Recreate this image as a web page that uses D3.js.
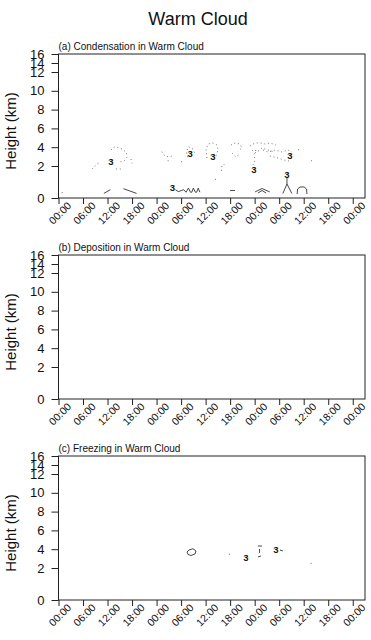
<!DOCTYPE html>
<html>
<head>
<meta charset="utf-8">
<script src="https://cdn.jsdelivr.net/npm/d3@7"></script>
<style>
  body { margin: 0; background: #fff; }
  svg { display: block; }
  text { font-family: "Liberation Sans", Arial, Helvetica, sans-serif; fill: #111; }
</style>
</head>
<body>
<svg id="chart" width="371" height="640"></svg>
<script>
// ---- data -------------------------------------------------------------
const chartTitle = "Warm Cloud";
const panelTitles = [
  "(a) Condensation in Warm Cloud",
  "(b) Deposition in Warm Cloud",
  "(c) Freezing in Warm Cloud"
];
const yAxisTitle = "Height (km)";

// time axis in hours from the start of the run
const timeDomain = [0, 75];
const xTickHours = [0, 6, 12, 18, 24, 30, 36, 42, 48, 54, 60, 66, 72];
const xTickLabels = ["00:00", "06:00", "12:00", "18:00", "00:00", "06:00", "12:00",
                     "18:00", "00:00", "06:00", "12:00", "18:00", "00:00"];

// height axis (km) on stretched model levels
const yTickValues = [0, 2, 4, 6, 8, 10, 12, 14, 16];
const yLevelFraction = [0, 0.2222, 0.3528, 0.4833, 0.6139, 0.7444, 0.875, 0.9375, 1];

// contour lines: [hour, km] vertices
const condSolid = [
  [[0.8, 0.33], [1.0, 0.33]],
  [[11.1, 0.29], [12.7, 0.52]],
  [[15.9, 0.58], [19.1, 0.29]],
  [[28.6, 0.52], [29.3, 0.40], [30.0, 0.46], [30.6, 0.52], [31.2, 0.36], [31.8, 0.62], [32.3, 0.36],
   [32.6, 0.36], [33.0, 0.62], [33.5, 0.36], [33.8, 0.36], [34.2, 0.62], [34.6, 0.36]],
  [[42.0, 0.47], [43.2, 0.47]],
  [[48.1, 0.38], [49.8, 0.59], [51.7, 0.38]],
  [[48.8, 0.31], [49.8, 0.47], [50.8, 0.31]],
  [[55.9, 1.25], [55.9, 0.88], [54.9, 0.28]],
  [[55.9, 0.88], [57.1, 0.28]],
  [[58.4, 0.25], [58.5, 0.56], [59.1, 0.69], [60.1, 0.69], [60.7, 0.56], [60.8, 0.25]]
];
const condDotted = [
  [[12.85, 3.70], [13.58, 4.02], [14.56, 3.97], [15.54, 3.81], [16.52, 3.49], [16.88, 3.01], [16.15, 2.59], [14.93, 2.43]],
  [[14.07, 1.81], [15.54, 1.81]],
  [[17.74, 2.74], [17.98, 2.27]],
  [[8.2, 1.81], [9.42, 2.21], [10.15, 2.37]],
  [[25.25, 3.52], [26.06, 3.06], [27.04, 2.96], [27.77, 3.06]],
  [[26.7, 2.56], [27.0, 2.56]],
  [[30.0, 2.46], [30.3, 2.46]],
  [[31.6, 2.93], [31.3, 3.50], [31.8, 4.05], [32.9, 3.80], [33.4, 3.28]],
  [[36.33, 2.85], [36.09, 3.70], [36.58, 4.34], [37.8, 4.45], [38.78, 4.23], [39.03, 3.70], [38.54, 3.06]],
  [[42.2, 4.23], [43.2, 4.45], [44.4, 4.34], [44.9, 3.91], [43.9, 3.60]],
  [[42.45, 3.38], [43.4, 2.96], [44.4, 3.28]],
  [[39.9, 1.70], [40.0, 2.11], [40.6, 2.15]],
  [[38.3, 1.17], [38.6, 1.17]],
  [[46.86, 4.13], [48.08, 4.45], [49.3, 4.45], [50.52, 4.34], [51.75, 4.45], [53.22, 4.23]],
  [[47.35, 3.70], [48.32, 3.38], [49.79, 3.91], [51.26, 3.70], [52.73, 3.49]],
  [[48.3, 3.70], [47.8, 3.17], [48.1, 2.64], [47.6, 2.11]],
  [[50.04, 3.70], [51.26, 3.49], [52.97, 3.70], [54.69, 3.49], [56.16, 3.70], [57.13, 3.49]],
  [[51.7, 3.06], [53.71, 2.85], [55.18, 2.64], [56.4, 2.53]],
  [[58.6, 3.70], [59.33, 3.91]],
  [[61.8, 2.56], [62.1, 2.56]]
];
const condLabels = [[12.85, 2.46], [32.2, 3.35], [37.8, 2.99], [47.8, 1.79], [56.6, 3.12], [55.9, 1.44], [27.9, 0.67]];
const condLabelText = "3";

const depoSolid = [];
const depoDotted = [];
const depoLabels = [];

const freezeSolid = [
  [[31.44, 3.70], [31.93, 3.91], [32.91, 4.05], [33.64, 3.81], [33.4, 3.49], [32.42, 3.33], [31.69, 3.44], [31.44, 3.70]],
  [[48.8, 4.34], [49.8, 4.34]],
  [[49.18, 4.02], [49.18, 3.60]],
  [[48.8, 3.17], [49.55, 3.28]],
  [[54.2, 3.91], [54.9, 3.81]],
  [[41.7, 3.46], [41.9, 3.46]],
  [[61.7, 2.50], [61.9, 2.50]]
];
const freezeDotted = [];
const freezeLabels = [[45.88, 3.14], [53.2, 3.99]];
const freezeLabelText = "3";

// ---- layout ----------------------------------------------------------
const svg = d3.select("#chart");
const plot = { left: 58.5, right: 365, top: 54, height: 144 };
const panelStep = 201;

svg.append("text")
  .attr("x", 198).attr("y", 25)
  .attr("text-anchor", "middle")
  .style("font-size", "18px")
  .text(chartTitle);

const x = d3.scaleLinear().domain(timeDomain).range([plot.left, plot.right]);
const line = (y) => d3.line().x(d => x(d[0])).y(d => y(d[1]));

const panels = [
  { title: panelTitles[0], solid: condSolid, dotted: condDotted, labels: condLabels, text: condLabelText },
  { title: panelTitles[1], solid: depoSolid, dotted: depoDotted, labels: depoLabels, text: "" },
  { title: panelTitles[2], solid: freezeSolid, dotted: freezeDotted, labels: freezeLabels, text: freezeLabelText }
];

panels.forEach((p, i) => {
  const top = plot.top + i * panelStep;
  const bottom = top + plot.height;
  const y = d3.scaleLinear()
    .domain(yTickValues)
    .range(yLevelFraction.map(f => bottom - f * plot.height));
  const g = svg.append("g");

  // contour lines
  g.selectAll("path.solid").data(p.solid).join("path")
    .attr("class", "solid")
    .attr("d", line(y))
    .attr("fill", "none").attr("stroke", "#333").attr("stroke-width", 0.9);
  g.selectAll("path.dotted").data(p.dotted).join("path")
    .attr("class", "dotted")
    .attr("d", line(y))
    .attr("fill", "none").attr("stroke", "#666").attr("stroke-width", 0.9)
    .attr("stroke-dasharray", "1,2.8");
  g.selectAll("text.clab").data(p.labels).join("text")
    .attr("class", "clab")
    .attr("x", d => x(d[0])).attr("y", d => y(d[1]))
    .attr("text-anchor", "middle").attr("dy", "0.35em")
    .style("font-size", "9.5px").style("font-weight", "bold")
    .text(p.text);

  // frame
  g.append("rect")
    .attr("x", plot.left).attr("y", top)
    .attr("width", plot.right - plot.left).attr("height", plot.height)
    .attr("fill", "none").attr("stroke", "#222").attr("stroke-width", 1);

  // y axis
  const ya = g.append("g").attr("transform", `translate(${plot.left},0)`)
    .call(d3.axisLeft(y).tickValues(yTickValues).tickSize(7).tickPadding(7).tickFormat(d3.format("d")));
  ya.select(".domain").remove();
  ya.selectAll("line").attr("stroke", "#222");
  ya.selectAll("text").style("font-size", "13px").attr("fill", "#111");

  // x axis
  const xa = g.append("g").attr("transform", `translate(0,${bottom})`)
    .call(d3.axisBottom(x).tickValues(xTickHours).tickSize(6).tickFormat((d, k) => xTickLabels[k]));
  xa.select(".domain").remove();
  xa.selectAll("line").attr("stroke", "#222");
  xa.selectAll("text")
    .attr("y", 0).attr("dy", "0.35em")
    .attr("text-anchor", "middle")
    .attr("transform", "translate(1,15) rotate(-45)")
    .style("font-size", "10.5px").attr("fill", "#111");

  // panel title and axis title
  g.append("text")
    .attr("x", plot.left).attr("y", top - 4)
    .style("font-size", "10px")
    .text(p.title);
  g.append("text")
    .attr("transform", `translate(16,${(top + bottom) / 2 + 5}) rotate(-90)`)
    .attr("text-anchor", "middle")
    .style("font-size", "15px")
    .text(yAxisTitle);
});
</script>
</body>
</html>
